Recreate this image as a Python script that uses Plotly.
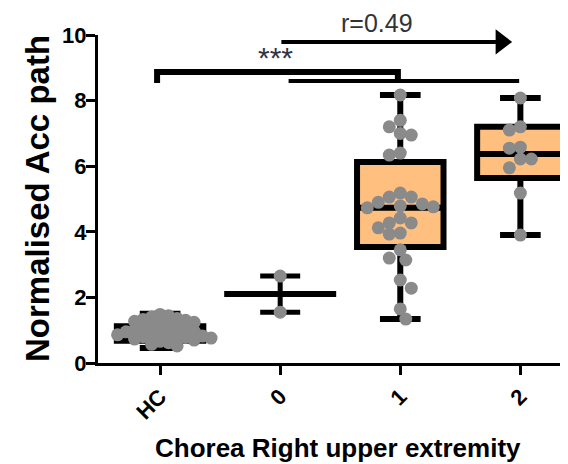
import numpy as np
import plotly.graph_objects as go

# ---------------- data ----------------
categories = ["HC", "0", "1", "2"]

hc_values = [1.48, 1.44, 1.40, 1.36, 1.33, 1.30, 1.27, 1.24, 1.20, 1.17, 1.14, 1.10,
             1.07, 1.04, 1.00, 0.97, 0.95, 0.92, 0.90, 0.88, 0.86, 0.84, 0.82, 0.80,
             0.78, 0.76, 0.73, 0.70, 0.66, 0.62, 0.57, 0.52]
g0_values = [2.65, 1.55]
g1_values = [8.17, 7.40, 7.00, 7.20, 6.95, 6.34, 6.40, 5.18, 5.06, 5.06, 4.90, 4.85,
             4.79, 4.73, 4.76, 4.42, 4.27, 4.27, 4.12, 3.96, 3.93, 3.45, 3.14, 3.20,
             2.53, 2.28, 1.65, 1.34]
g2_values = [8.08, 7.10, 7.20, 6.58, 6.55, 6.22, 6.22, 5.95, 5.18, 3.90]

# box statistics (q1, median, q3, lower whisker, upper whisker)
box_stats = {
    0: (0.68, 0.90, 1.12, 0.46, 1.50),
    2: (3.54, 4.73, 6.13, 1.34, 8.17),
    3: (5.64, 6.37, 7.20, 3.90, 8.08),
}

sig_label = "***"
r_label = "r=0.49"
x_title = "Chorea Right upper extremity"
y_title = "Normalised Acc path"

# ---------------- styling ----------------
FONT = "Arial, Liberation Sans, sans-serif"
ORANGE = "#FFC07F"
GREY = "#8A8A8A"
# the page body has an 8px margin, so the figure is drawn 8px in and 8px down
W, H = 560, 456
M = dict(l=90, r=8, t=27, b=101)
XR = [-0.517, 3.33]
YR = [0, 10]
px_per_x = (W - M["l"] - M["r"]) / (XR[1] - XR[0])
px_per_y = (H - M["t"] - M["b"]) / (YR[1] - YR[0])


def swarm(values, center, dist_px=11.0, step_px=5.5):
    """Simple beeswarm: place each point at the smallest offset without collision."""
    values = np.asarray(values, dtype=float)
    order = np.argsort(-values)
    cands = [0.0]
    for j in range(1, 40):
        cands += [-j * step_px, j * step_px]
    placed = []
    xs = np.zeros(len(values))
    side = 1
    for i in order:
        vy = values[i] * px_per_y
        best = 0.0
        for c in cands:
            cc = c * side
            if all((px - cc) ** 2 + (py - vy) ** 2 >= dist_px ** 2 for px, py in placed):
                best = cc
                break
        side = -side
        placed.append((best, vy))
        xs[i] = center + best / px_per_x
    return xs


fig = go.Figure()

# boxes
for xi, (q1, med, q3, lo, hi) in box_stats.items():
    fig.add_trace(go.Box(
        x=[xi], q1=[q1], median=[med], q3=[q3], lowerfence=[lo], upperfence=[hi],
        width=0.72, whiskerwidth=0.47, fillcolor=ORANGE,
        line=dict(color="black", width=6), boxpoints=False, showlegend=False,
        hoverinfo="skip"))

# group "0": mean with range
g0_mean = float(np.mean(g0_values))
fig.add_trace(go.Scatter(
    x=[1], y=[g0_mean], mode="markers",
    marker=dict(symbol="line-ew", size=80, line=dict(color="black", width=6)),
    error_y=dict(type="data", symmetric=False,
                 array=[max(g0_values) - g0_mean],
                 arrayminus=[g0_mean - min(g0_values)],
                 color="black", thickness=5, width=20),
    showlegend=False))

# points
swarm_dist = [8.5, 11.0, 11.0, 11.0]
for xi, vals, d in zip([0, 1, 2, 3], [hc_values, g0_values, g1_values, g2_values], swarm_dist):
    vals = np.array(vals)
    fig.add_trace(go.Scatter(
        x=swarm(vals, xi, dist_px=d, step_px=d / 2), y=vals, mode="markers",
        marker=dict(color=GREY, size=13, line=dict(width=0)),
        showlegend=False, cliponaxis=False))

# significance brackets
fig.add_trace(go.Scatter(x=[-0.025, -0.025, 1.98, 1.98], y=[8.54, 8.87, 8.87, 8.6],
                         mode="lines", line=dict(color="black", width=6),
                         showlegend=False, cliponaxis=False))
fig.add_trace(go.Scatter(x=[1.07, 2.99], y=[8.6, 8.6], mode="lines",
                         line=dict(color="black", width=4),
                         showlegend=False, cliponaxis=False))
# trend arrow
fig.add_trace(go.Scatter(x=[1.01, 2.83], y=[9.79, 9.79], mode="lines",
                         line=dict(color="black", width=4),
                         showlegend=False, cliponaxis=False))
fig.add_trace(go.Scatter(x=[2.84], y=[9.79], mode="markers",
                         marker=dict(symbol="triangle-right", size=22, color="black"),
                         showlegend=False, cliponaxis=False))

fig.add_annotation(x=0.96, y=9.3, text=sig_label, showarrow=False,
                   font=dict(family=FONT, size=30, color="#2F3545"))
fig.add_annotation(x=1.81, xref="x", y=1, yref="paper", yshift=12, text=r_label,
                   showarrow=False, yanchor="middle",
                   font=dict(family=FONT, size=25, color="#333333"))

# axis titles
fig.add_annotation(x=0, xref="paper", xshift=-61, y=0.5, yref="paper",
                   text=f"<b>{y_title}</b>", textangle=-90, showarrow=False,
                   xanchor="center", yanchor="middle",
                   font=dict(family=FONT, size=33, color="black"))
fig.add_annotation(x=0.5, xref="paper", xshift=9, y=0, yref="paper", yshift=-85,
                   text=f"<b>{x_title}</b>", showarrow=False,
                   xanchor="center", yanchor="middle",
                   font=dict(family=FONT, size=26, color="black"))

fig.update_layout(
    width=W, height=H, margin=M,
    paper_bgcolor="white", plot_bgcolor="white",
    font=dict(family=FONT, color="black"),
    xaxis=dict(range=XR, tickmode="array", tickvals=[0, 1, 2, 3],
               ticktext=[f"<b>{c}</b>" for c in categories], tickangle=-45,
               tickfont=dict(size=22), showgrid=False, zeroline=False,
               showline=True, linecolor="black", linewidth=3,
               ticks="outside", ticklen=9, tickwidth=3, tickcolor="black",
               automargin=False),
    yaxis=dict(range=YR, tickvals=[0, 2, 4, 6, 8, 10],
               ticktext=[f"<b>{v}</b>" for v in [0, 2, 4, 6, 8, 10]],
               tickfont=dict(size=22), showgrid=False, zeroline=False,
               showline=True, linecolor="black", linewidth=3,
               ticks="outside", ticklen=9, tickwidth=3, tickcolor="black",
               ticklabelstandoff=-5, automargin=False),
)

fig.write_html("out.html")
